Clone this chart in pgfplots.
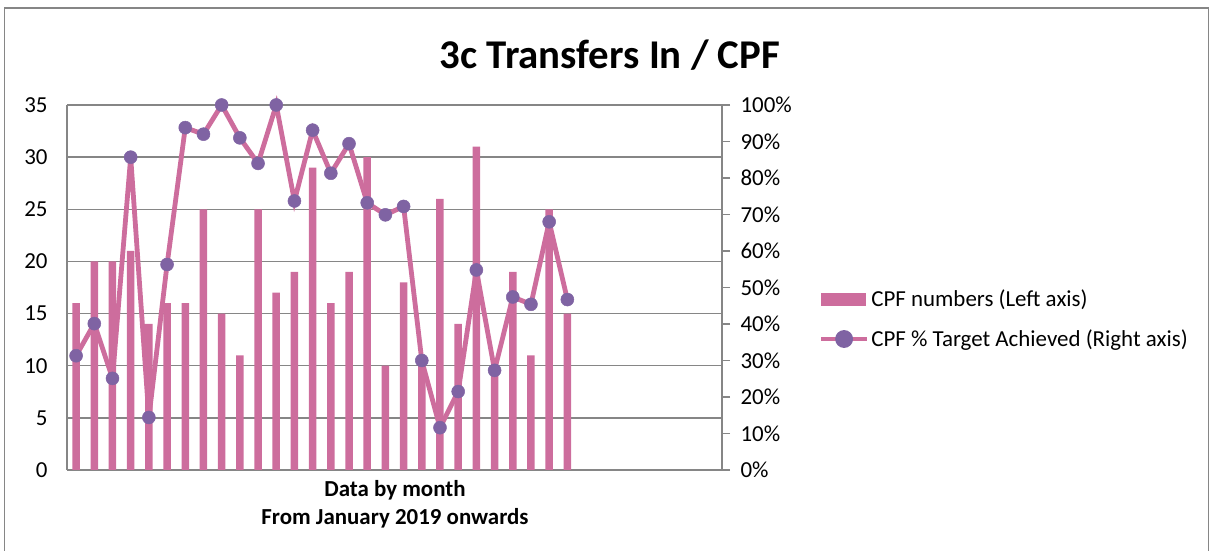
\documentclass[border=0pt]{standalone}
\usepackage{pgfplots}
\pgfplotsset{compat=1.18}
\usepackage{pgfplotstable}
\usepackage{fontspec}
\setmainfont{Carlito}
\definecolor{barpink}{HTML}{CD6D9D}
\definecolor{mkpurple}{HTML}{7F63A3}
\definecolor{gridgray}{HTML}{868686}
\pgfplotsset{
  linelegend/.style={legend image code/.code={\draw[barpink,line width=4.5bp] (0bp,0bp) -- (46bp,0bp); \fill[mkpurple] (23bp,0bp) circle (6.5bp);}},
  barlegend/.style={legend image code/.code={\fill[barpink] (0bp,-6bp) rectangle (44bp,6bp);}},
}
\pgfplotstableread{
x bars pct
1 16 31.3
2 20 40.1
3 20 25.1
4 21 85.7
5 14 14.4
6 16 56.3
7 16 93.8
8 25 92.0
9 15 100
10 11 91.0
11 25 84.0
12 17 100
13 19 73.7
14 29 93.1
15 16 81.3
16 19 89.4
17 30 73.2
18 10 69.9
19 18 72.2
20 10 30.0
21 26 11.6
22 14 21.5
23 31 54.8
24 10 27.3
25 19 47.4
26 11 45.4
27 25 68.0
28 15 46.7
}\datatable
\begin{document}
\begin{tikzpicture}[x=1bp,y=1bp]
\useasboundingbox (0,0) rectangle (1214,551);
\draw[gridgray,line width=1.5bp] (4.5,-5) -- (4.5,543) -- (1208.5,543) -- (1208.5,-5);
\node at (610,496) {\fontsize{41}{48}\selectfont\bfseries 3c Transfers In / CPF};
\node at (395,61) {\fontsize{23}{28}\selectfont\bfseries Data by month};
\node at (395,33) {\fontsize{23}{28}\selectfont\bfseries From January 2019 onwards};
\begin{axis}[
  at={(67bp,81bp)}, anchor=south west,
  width=655bp, height=365bp, scale only axis,
  xmin=0.5, xmax=36.5,
  ymin=0, ymax=35,
  ytick={0,5,...,35},
  xtick=\empty,
  axis y line*=left, axis x line*=bottom,
  axis line style={gridgray,line width=1.5bp,-},
  ymajorgrids, grid style={gridgray,line width=1.5bp},
  major tick length=0pt,
  tick style={draw=none},
  ticklabel style={font=\fontsize{23}{28}\selectfont},
  yticklabel style={xshift=-16bp},
  /pgf/number format/assume math mode=true,
]
\addplot[ybar, bar width=7.5bp, fill=barpink, draw=none] table[x=x,y=bars]{\datatable};
\end{axis}
\begin{axis}[
  at={(67bp,81bp)}, anchor=south west,
  width=655bp, height=365bp, scale only axis,
  xmin=0.5, xmax=36.5,
  ymin=0, ymax=100,
  ytick={0,10,...,100},
  yticklabel={\pgfmathprintnumber{\tick}\%},
  axis y line*=right, axis x line=none,
  axis line style={gridgray,line width=1.5bp,-},
  tick style={gridgray,line width=1.5bp},
  tick align=outside, major tick length=8bp,
  ticklabel style={font=\fontsize{23}{28}\selectfont},
  yticklabel style={xshift=7bp},
  /pgf/number format/assume math mode=true,
  clip=false,
  legend style={at={(1.143,0.414)}, anchor=west, draw=none, fill=none,
    font=\fontsize{23}{28}\selectfont, row sep=18bp,
    /tikz/every even column/.append style={column sep=1bp}},
  legend cell align=left,
]
\addlegendimage{barlegend}
\addlegendentry{CPF numbers (Left axis)}
\addplot[barpink, line width=4.8bp, mark=*, mark size=6.5bp,
  mark options={fill=mkpurple, draw=mkpurple, line width=0.5bp},
  linelegend] table[x=x,y=pct]{\datatable};
\addlegendentry{CPF \% Target Achieved (Right axis)}
\end{axis}
\end{tikzpicture}
\end{document}
